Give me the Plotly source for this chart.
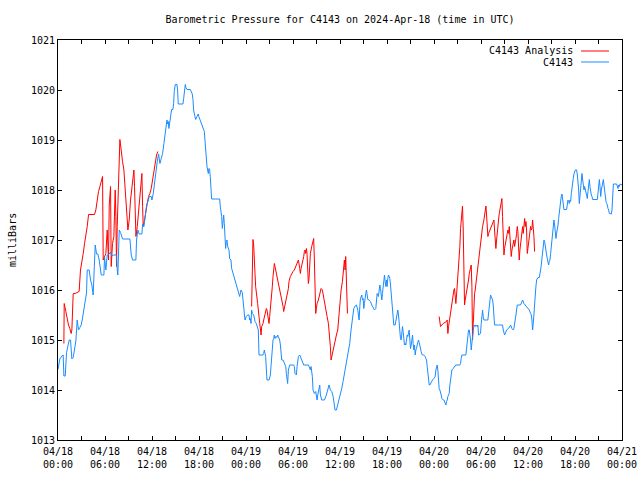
import datetime as dt
import plotly.graph_objects as go

# ---------------- data (hours after 2024-04-18 00:00 UTC, pressure in mbar) ----------------
obs_hours = [0, 0.23, 0.49, 0.66, 0.75, 0.92, 1.09, 1.26, 1.43, 1.6, 1.77, 1.94, 2.11, 2.28, 2.45, 2.62, 2.79,
             2.96, 3.13, 3.3, 3.47, 3.64, 3.73, 3.98, 4.15, 4.32, 4.49, 4.66, 4.75, 4.92, 5.09, 5.26, 5.52,
             5.69, 5.86, 5.94, 6.11, 6.28, 6.54, 6.71, 6.88, 7.05, 7.3, 7.47, 7.56, 7.64, 7.73, 7.82, 7.99,
             8.24, 8.67, 9.18, 9.35, 9.52, 9.94, 10.03, 10.2, 10.37, 10.71, 10.8, 10.97, 11.14, 11.31, 11.48,
             11.65, 11.9, 11.99, 12.16, 12.33, 12.5, 12.67, 12.84, 13.01, 13.18, 13.35, 13.52, 13.69,
             13.82, 13.91, 13.99, 14.08, 14.16, 14.25, 14.33, 14.5, 14.67, 14.76, 14.84, 14.97, 15.18, 15.27,
             15.35, 15.7, 15.95, 16.04, 16.12, 16.25, 16.33, 16.46, 16.89, 16.97, 17.14, 17.23, 17.31, 17.48,
             17.57, 17.74, 17.91, 17.98, 18.17, 18.34, 18.51, 18.68, 18.76, 18.85, 19.02, 19.1, 19.19, 19.27,
             19.36, 19.44, 19.53, 19.61, 20.13, 20.64, 20.72, 20.89, 20.98, 21.06, 21.15, 21.23, 21.32, 21.4,
             21.49, 21.57, 21.66, 21.83, 21.91, 22.08, 22.17, 22.6,
             23.19, 23.36, 23.53, 23.62, 23.79, 23.87, 24.04, 24.21, 24.38, 24.47, 24.55, 24.64, 24.72, 24.81,
             24.98, 25.06, 25.15, 25.32, 25.4, 25.57, 25.66, 25.92, 26.17, 26.26, 26.34, 26.43, 26.51, 26.6,
             26.68, 26.94, 27.02, 27.11, 27.19, 27.28, 27.36, 27.45, 27.53, 27.62, 27.7, 27.79, 27.96, 28.05,
             28.13, 28.3, 28.39, 28.56, 28.73, 28.9, 29.07, 29.15, 29.24, 29.32, 29.41, 29.49, 29.58, 30.09,
             30.17, 30.26, 30.43, 30.52, 30.69, 30.86, 31.03, 31.2, 31.37, 31.54, 31.96, 32.05, 32.22, 32.3,
             32.39, 32.47, 32.56, 32.73, 32.9, 32.99, 33.07, 33.16, 33.33, 33.41, 33.5, 33.58, 33.67, 34.01,
             34.09, 34.26, 34.43, 34.52, 34.6, 34.77, 34.95, 35.12, 35.29, 35.37, 35.54, 35.71, 35.88, 36.05,
             36.22, 36.39, 36.56, 36.73, 36.9, 37.07, 37.24, 37.41, 37.58, 37.76, 37.93, 38.1, 38.27, 38.36,
             38.44,
             38.53, 38.61, 38.78, 38.87, 38.95, 39.04, 39.12, 39.21, 39.29, 39.38, 39.46, 39.55, 39.72, 39.89,
             40.06, 40.23, 40.4, 40.57, 40.66, 40.74, 40.91, 41.0, 41.08, 41.17, 41.25, 41.34, 41.42, 41.51,
             41.59, 41.68, 41.76, 41.85, 41.93, 42.02, 42.1, 42.19, 42.28, 42.36, 42.45, 42.53, 42.62, 42.7,
             42.79, 42.87, 43.04, 43.21, 43.3, 43.38, 43.47, 43.55, 43.64, 43.72, 43.81, 43.89, 43.98, 44.06,
             44.15, 44.23, 44.32, 44.4, 44.49, 44.58, 44.66, 44.75, 44.83, 44.92, 45.0, 45.09, 45.17, 45.26,
             45.34, 45.43, 45.51, 45.6, 45.68, 45.77, 45.85, 45.94, 46.02, 46.11, 46.19, 46.28, 46.36, 46.45,
             46.53, 46.7, 46.87, 46.96, 47.05, 47.13, 47.22, 47.3, 47.39, 47.47, 47.56, 47.64, 47.81, 47.98,
             48.15, 48.24, 48.32, 48.41, 48.49, 48.58, 48.66, 48.75, 48.83, 48.92, 49.0, 49.09, 49.26, 49.35,
             49.43, 49.52, 49.6, 49.69, 49.77, 49.86, 49.94, 50.03, 50.11, 50.2, 50.28, 50.45, 50.62, 50.79,
             51.3,
             51.39, 51.47, 51.56, 52.07, 52.15, 52.24, 52.33, 52.41, 52.5, 52.58, 52.67, 52.75, 52.84, 52.92,
             53.01, 53.09, 53.18, 53.26, 53.35, 53.52, 53.6, 53.69, 53.94, 54.03, 54.11, 54.2, 54.28, 54.37,
             54.88, 54.97, 55.05, 55.14, 55.22, 55.31, 55.39, 55.48, 55.56, 55.65, 55.73, 56.24, 56.75, 56.84,
             56.93, 57.01, 57.1, 57.27, 57.52, 57.69, 57.78, 57.95, 58.12, 58.2, 58.29, 58.37, 58.46, 58.54,
             58.63, 59.05, 59.14, 59.31, 59.48, 59.65, 59.82, 59.99, 60.16, 60.33, 60.42, 60.5, 60.59, 60.67,
             60.76, 60.84, 60.93, 61.01, 61.1, 61.27, 61.44, 61.52, 61.61, 61.69, 61.78, 61.86, 61.95, 62.04,
             62.12, 62.21, 62.29, 62.38, 62.46, 62.55, 62.63,
             62.72, 62.8, 62.89, 62.97, 63.06, 63.14, 63.23, 63.31, 63.4, 63.48, 63.57, 63.65, 63.74, 63.83,
             63.91, 64.0, 64.08, 64.17, 64.25, 64.34, 64.42, 64.51, 64.59, 64.93, 65.02, 65.1, 65.19, 65.27,
             65.36, 65.44, 65.53, 65.61, 65.7, 65.78, 65.87, 65.95, 66.04, 66.12, 66.21, 66.3, 66.38, 66.47,
             66.55, 66.64, 66.72, 66.81, 66.89, 66.98, 67.06, 67.15, 67.23, 67.32, 67.4, 67.49, 67.57, 67.66,
             67.74, 67.83, 67.91, 68.0, 68.08, 68.17, 68.25, 68.85, 68.94, 69.02, 69.11, 69.19, 69.28, 69.36,
             69.45, 69.53, 69.62, 69.7, 69.79, 69.87, 69.96, 70.04, 70.13, 70.21, 70.3, 70.38, 70.64, 70.72,
             70.81, 70.9, 71.32, 71.41, 71.49, 71.58, 71.66, 71.75, 72.0]

obs_mbar = [1014.41, 1014.62, 1014.68, 1014.7, 1014.28, 1014.28, 1014.75, 1014.85, 1015.0, 1015.0, 1014.62,
            1014.65, 1014.78, 1014.98, 1015.4, 1015.2, 1015.25, 1015.3, 1015.44, 1015.6, 1015.8, 1015.94,
            1016.4, 1016.4, 1016.2, 1016.1, 1015.9, 1016.64, 1016.9, 1016.72, 1016.72, 1016.6, 1016.3, 1016.3,
            1016.3, 1016.66, 1016.4, 1016.7, 1016.72, 1016.76, 1016.68, 1016.7, 1016.7, 1016.7, 1016.4,
            1016.3, 1016.76, 1017.2, 1017.15, 1017.02, 1017.02, 1017.02, 1016.7, 1016.6, 1016.6, 1017.0,
            1017.2, 1017.12, 1017.12, 1017.32, 1017.27, 1017.5, 1017.7, 1017.77, 1017.87, 1017.87, 1017.8,
            1017.93, 1018.17, 1018.33, 1018.57, 1018.72, 1018.53, 1018.63, 1018.73, 1018.93, 1019.13,
            1019.33, 1019.4, 1019.32, 1019.37, 1019.23, 1019.33, 1019.5, 1019.61, 1019.61, 1019.73, 1019.97,
            1020.11, 1020.11, 1020.0, 1019.72, 1019.72, 1019.72, 1019.83, 1020.0, 1020.11, 1020.05, 1020.01,
            1020.01, 1019.97, 1019.92, 1019.81, 1019.6, 1019.47, 1019.41, 1019.47, 1019.52, 1019.47, 1019.39,
            1019.35, 1019.27, 1019.17, 1019.0, 1018.77, 1018.47, 1018.4, 1018.33, 1018.43, 1018.4, 1018.27,
            1017.97, 1017.82, 1017.82, 1017.82, 1017.67, 1017.47, 1017.23, 1017.37, 1017.5, 1017.33, 1017.13,
            1016.83, 1016.97, 1017.0, 1016.87, 1016.8, 1016.63, 1016.6, 1016.43, 1016.2,
            1015.87, 1016.0, 1015.95, 1015.8, 1015.6, 1015.4, 1015.47, 1015.5, 1015.5, 1015.4, 1015.43,
            1015.33, 1015.6, 1015.53, 1015.5, 1015.4, 1015.37, 1015.33, 1015.27, 1015.2, 1014.7, 1014.7,
            1014.7, 1014.73, 1014.8, 1014.73, 1014.67, 1014.4, 1014.2, 1014.2, 1014.23, 1014.3, 1014.47,
            1014.73, 1014.87, 1015.0, 1015.03, 1015.1, 1015.03, 1015.07, 1015.05, 1015.1, 1015.07, 1015.0,
            1014.9, 1014.6, 1014.6, 1014.53, 1014.47, 1014.33, 1014.2, 1014.13, 1014.4, 1014.47, 1014.5,
            1014.5, 1014.47, 1014.33, 1014.3, 1014.47, 1014.67, 1014.7, 1014.63, 1014.6, 1014.5, 1014.5,
            1014.5, 1014.47, 1014.4, 1014.47, 1014.4, 1014.27, 1014.0, 1013.93, 1013.97, 1013.87, 1013.8,
            1013.9, 1014.0, 1014.1, 1013.9, 1013.83, 1013.8, 1013.8, 1013.83, 1013.9, 1014.0, 1014.07,
            1014.1, 1014.0, 1013.97, 1013.87, 1013.7, 1013.6, 1013.6, 1013.7, 1013.8, 1013.9, 1014.03,
            1014.17, 1014.33, 1014.4, 1014.57, 1014.73, 1014.93, 1015.2, 1015.4, 1015.63, 1015.68, 1015.7,
            1015.6, 1015.43, 1015.4,
            1015.67, 1015.83, 1015.9, 1015.8, 1015.83, 1015.63, 1015.73, 1015.9, 1015.93, 1016.0, 1015.93,
            1015.81, 1015.8, 1015.77, 1015.7, 1015.63, 1015.6, 1015.63, 1015.83, 1015.93, 1015.87, 1016.0,
            1016.1, 1016.03, 1015.93, 1015.8, 1015.93, 1016.13, 1016.27, 1016.3, 1016.17, 1016.07, 1016.2,
            1016.07, 1016.23, 1016.3, 1016.27, 1016.23, 1016.1, 1015.93, 1015.73, 1015.53, 1015.37, 1015.3,
            1015.3, 1015.43, 1015.57, 1015.6, 1015.5, 1015.27, 1015.1, 1015.03, 1015.0, 1015.1, 1015.27,
            1015.17, 1015.07, 1014.9, 1014.93, 1014.9, 1015.0, 1015.1, 1015.07, 1015.17, 1015.2, 1015.0,
            1014.83, 1014.9, 1014.97, 1015.1, 1014.93, 1014.8, 1014.9, 1014.7, 1014.8, 1014.83, 1014.9,
            1014.97, 1015.0, 1014.95, 1014.87, 1014.81, 1014.77, 1014.72, 1014.7, 1014.7, 1014.67, 1014.63,
            1014.6, 1014.47, 1014.33, 1014.2, 1014.1, 1014.1, 1014.13, 1014.17, 1014.2, 1014.23, 1014.27,
            1014.4, 1014.47, 1014.5, 1014.4, 1014.1, 1014.03, 1014.0, 1013.97, 1013.9, 1013.83, 1013.81,
            1013.8, 1013.77, 1013.75, 1013.7, 1013.77, 1013.8, 1013.87, 1013.9, 1013.93, 1014.1, 1014.2,
            1014.3, 1014.4, 1014.43, 1014.48, 1014.5, 1014.5,
            1014.53, 1014.63, 1014.7, 1014.7, 1014.83, 1015.0, 1015.03, 1015.2, 1015.2, 1015.13, 1015.0,
            1014.8, 1015.0, 1015.07, 1015.2, 1015.27, 1015.3, 1015.27, 1015.3, 1015.27, 1015.3, 1015.1,
            1015.13, 1015.33, 1015.5, 1015.6, 1015.47, 1015.4, 1015.4, 1015.53, 1015.7, 1015.8, 1015.9,
            1015.87, 1015.83, 1015.8, 1015.7, 1015.53, 1015.3, 1015.3, 1015.3, 1015.2, 1015.13, 1015.1,
            1015.13, 1015.2, 1015.23, 1015.27, 1015.3, 1015.23, 1015.2, 1015.23, 1015.3, 1015.4, 1015.5,
            1015.6, 1015.7, 1015.7, 1015.73, 1015.8, 1015.73, 1015.7, 1015.67, 1015.63, 1015.6, 1015.53,
            1015.5, 1015.4, 1015.2, 1015.33, 1015.6, 1015.73, 1015.9, 1016.07, 1016.2, 1016.25, 1016.25,
            1016.3, 1016.4, 1016.5, 1016.67, 1016.83, 1016.97, 1017.0, 1016.97, 1016.83, 1016.77, 1016.7,
            1016.63, 1016.57, 1016.5,
            1016.57, 1016.6, 1016.73, 1016.87, 1017.0, 1017.13, 1017.3, 1017.4, 1017.3, 1017.13, 1017.03,
            1017.13, 1017.2, 1017.3, 1017.43, 1017.57, 1017.7, 1017.83, 1017.88, 1017.92, 1017.8, 1017.67,
            1017.61, 1017.61, 1017.7, 1017.8, 1017.77, 1017.73, 1017.8, 1017.77, 1017.93, 1018.07, 1018.17,
            1018.23, 1018.32, 1018.37, 1018.4, 1018.41, 1018.4, 1018.3, 1018.17, 1018.0, 1017.73, 1017.93,
            1018.1, 1018.21, 1018.33, 1018.2, 1018.07, 1018.0, 1018.07, 1018.0, 1017.93, 1017.87, 1017.83,
            1017.97, 1018.1, 1018.21, 1018.07, 1017.95, 1017.9, 1017.87, 1017.81, 1017.81, 1017.93, 1018.1,
            1018.21, 1018.07, 1017.87, 1018.0, 1018.07, 1018.17, 1018.21, 1018.1, 1017.93, 1017.8, 1017.77,
            1017.73, 1017.7, 1017.63, 1017.6, 1017.53, 1017.52, 1017.6, 1017.93, 1018.12, 1018.12, 1018.08,
            1018.03, 1018.1, 1018.07, 1018.12, 1018.1]

# analysis series: None marks the gaps between the three analysis windows
ana_hours = [0.75, 0.79, 0.87, 1.0, 1.17, 1.34, 1.51, 1.68, 1.77, 1.85, 1.94, 2.19, 2.53, 2.7, 2.87, 3.04,
             3.22, 3.39, 3.56, 3.73, 3.9, 4.32, 4.66, 4.83, 5.0, 5.17, 5.35, 5.52, 5.69, 5.77, 5.94, 6.11,
             6.28, 6.45, 6.54, 6.71, 6.79, 6.96, 7.13, 7.3, 7.39, 7.47, 7.56, 7.73, 7.9, 7.99, 8.07, 8.24,
             8.41, 8.58, 8.75, 8.84, 8.92, 9.09, 9.26, 9.43, 9.6, 9.69, 9.77, 9.86, 9.95, 10.12, 10.29, 10.46,
             10.63, 10.71, 10.8, 10.88, 11.05, 11.22, 11.39, 11.56, 11.73, 11.9, 12.07, 12.24, 12.41, 12.58,
             12.75, 18.0,
             24.72, 24.81, 24.89, 24.98, 25.06, 25.15, 25.23, 25.4, 25.49, 25.66, 25.75, 25.83, 25.92, 26.0,
             26.17, 26.26, 26.34, 26.43, 26.6, 26.68, 26.77, 26.85, 26.94, 27.02, 27.11, 27.19, 27.28, 27.36,
             27.45, 27.53, 27.62, 27.7, 27.79, 27.87, 27.96, 28.05, 28.13, 28.22, 28.3, 28.47, 28.56, 28.64,
             28.73, 28.81, 28.9, 28.98, 29.15, 29.24, 29.41, 29.49, 29.66, 29.83, 30.0, 30.17, 30.35, 30.52,
             30.69, 30.86, 30.94, 31.03, 31.2, 31.37, 31.45, 31.54, 31.62, 31.71, 31.79, 31.88, 31.96, 32.05,
             32.13, 32.22, 32.39, 32.47, 32.56, 32.64, 32.73, 32.81, 32.9, 32.99, 33.07, 33.24, 33.41, 33.58,
             33.75, 33.92, 34.01, 34.18, 34.35, 34.52, 34.69, 34.77, 34.86, 34.95, 35.03, 35.2, 35.37, 35.54,
             35.71, 35.8, 35.97, 36.05, 36.14, 36.31, 36.39, 36.48, 36.56, 36.65, 36.73, 36.82, 36.9, 36.95,
             42.0,
             48.66, 48.83, 49.17, 49.6, 49.68, 49.77, 49.86, 50.03, 50.2, 50.28, 50.45, 50.54, 50.62, 50.71,
             50.79, 50.88, 50.96, 51.05, 51.13, 51.22, 51.3, 51.39, 51.47, 51.56, 51.64, 51.73, 51.81, 51.9,
             51.98, 52.07, 52.15, 52.24, 52.33, 52.41, 52.5, 52.58, 52.67, 52.75, 52.84, 52.92, 53.01, 53.09,
             53.18, 53.26, 53.35, 53.43, 53.52, 53.6, 53.69, 53.77, 53.86, 53.94, 54.03, 54.2, 54.37, 54.54,
             54.63, 54.71, 54.8, 54.88, 54.97, 55.14, 55.31, 55.48, 55.65, 55.73, 55.82, 55.9, 55.99, 56.07,
             56.16, 56.24, 56.33, 56.41, 56.5, 56.58, 56.67, 56.75, 56.84, 56.93, 57.01, 57.1, 57.18, 57.27,
             57.35, 57.44, 57.52, 57.61, 57.69, 57.78, 57.86, 57.95, 58.03, 58.12, 58.2, 58.29, 58.37, 58.46,
             58.54, 58.63, 58.71, 58.8, 58.88, 58.97, 59.05, 59.14, 59.22, 59.31, 59.39, 59.48, 59.57, 59.65,
             59.74, 59.82, 59.91, 59.99, 60.08, 60.16, 60.25, 60.33, 60.42, 60.5, 60.59, 60.67, 60.76, 60.84]

ana_mbar = [1014.93, 1015.73, 1015.67, 1015.57, 1015.4, 1015.3, 1015.23, 1015.13, 1015.2, 1015.53, 1015.93,
            1015.93, 1015.95, 1015.97, 1016.4, 1016.53, 1016.73, 1016.93, 1017.08, 1017.27, 1017.51, 1017.51,
            1017.51, 1017.6, 1017.8, 1017.97, 1018.07, 1018.17, 1018.27, 1016.6, 1016.67, 1016.73, 1017.2,
            1016.6, 1017.7, 1018.07, 1016.47, 1016.93, 1017.07, 1018.0, 1017.47, 1016.47, 1017.27, 1018.4,
            1019.01, 1018.9, 1018.73, 1018.57, 1018.4, 1018.07, 1017.67, 1017.4, 1017.2, 1017.4, 1017.8,
            1018.07, 1018.27, 1018.4, 1018.07, 1017.33, 1017.07, 1017.27, 1017.6, 1017.93, 1018.23, 1018.33,
            1017.67, 1017.27, 1017.4, 1017.6, 1017.73, 1017.87, 1017.93, 1018.03, 1018.2, 1018.4, 1018.6,
            1018.7, 1018.77, None,
            1015.67, 1016.33, 1017.01, 1016.9, 1016.4, 1016.33, 1016.07, 1015.9, 1015.73, 1015.47, 1015.33,
            1015.27, 1015.1, 1015.27, 1015.33, 1015.4, 1015.47, 1015.53, 1015.63, 1015.6, 1015.5, 1015.4,
            1015.33, 1015.47, 1015.6, 1015.8, 1015.87, 1016.07, 1016.27, 1016.43, 1016.53, 1016.47, 1016.4,
            1016.33, 1016.27, 1016.2, 1016.13, 1016.07, 1016.0, 1015.93, 1015.83, 1015.77, 1015.67, 1015.57,
            1015.63, 1015.67, 1015.8, 1015.9, 1016.03, 1016.17, 1016.27, 1016.33, 1016.37, 1016.4, 1016.47,
            1016.53, 1016.6, 1016.43, 1016.33, 1016.43, 1016.53, 1016.67, 1016.77, 1016.8, 1016.73, 1016.83,
            1016.73, 1016.4, 1016.13, 1016.23, 1016.47, 1016.73, 1016.87, 1016.93, 1017.0, 1017.03, 1016.6,
            1016.07, 1015.53, 1015.63, 1015.73, 1015.8, 1015.93, 1016.03, 1016.0, 1015.87, 1015.73, 1015.6,
            1015.47, 1015.33, 1015.07, 1014.87, 1014.6, 1014.67, 1014.77, 1014.87, 1014.97, 1015.1, 1015.2,
            1015.4, 1015.67, 1015.87, 1016.0, 1016.17, 1016.37, 1016.53, 1016.6, 1016.4, 1016.67, 1016.2,
            1015.8, 1015.53, None,
            1015.47, 1015.27, 1015.33, 1015.37, 1015.4, 1015.13, 1015.27, 1015.47, 1015.63, 1015.73, 1015.87,
            1016.0, 1016.03, 1015.83, 1015.73, 1015.9, 1016.07, 1016.2, 1016.37, 1016.63, 1016.87, 1017.23,
            1017.4, 1017.5, 1017.68, 1017.2, 1016.27, 1015.7, 1015.8, 1015.87, 1015.93, 1016.0, 1016.07,
            1016.2, 1016.33, 1016.4, 1016.47, 1016.5, 1016.07, 1015.0, 1015.33, 1015.8, 1015.93, 1016.0,
            1016.13, 1016.27, 1016.4, 1016.5, 1016.6, 1016.7, 1016.8, 1016.93, 1017.03, 1017.27, 1017.4,
            1017.6, 1017.68, 1017.5, 1017.33, 1017.07, 1017.13, 1017.2, 1017.27, 1017.33, 1017.4, 1017.2,
            1017.03, 1016.83, 1017.0, 1017.2, 1017.27, 1017.4, 1017.53, 1017.6, 1017.73, 1017.77, 1017.83,
            1017.47, 1016.73, 1016.7, 1016.83, 1016.93, 1017.0, 1017.07, 1017.13, 1017.2, 1017.13, 1017.27,
            1017.0, 1016.73, 1016.67, 1016.8, 1016.9, 1016.97, 1017.0, 1016.87, 1016.93, 1017.03, 1017.13,
            1017.27, 1017.17, 1016.93, 1016.6, 1016.8, 1016.93, 1017.07, 1017.13, 1017.27, 1017.13, 1017.37,
            1017.43, 1017.27, 1017.37, 1017.2, 1016.73, 1016.83, 1016.93, 1017.07, 1017.13, 1017.27, 1017.2,
            1017.23, 1017.4, 1017.3, 1017.07, 1016.77]

y_ticks = [1013, 1014, 1015, 1016, 1017, 1018, 1019, 1020, 1021]
series_names = ["C4143 Analysis", "C4143"]
title_text = "Barometric Pressure for C4143 on 2024-Apr-18 (time in UTC)"
y_title = "milliBars"

# ---------------- figure ----------------
base = dt.datetime(2024, 4, 18, 0, 0)
to_time = lambda hs: [base + dt.timedelta(hours=h) for h in hs]

FONT = "DejaVu Sans Mono"
RED = "#ff0000"
BLUE = "#1a8cff"

fig = go.Figure()
fig.add_trace(go.Scatter(x=to_time(ana_hours), y=ana_mbar, mode="lines", name=series_names[0],
                         line=dict(color=RED, width=1), connectgaps=False))
fig.add_trace(go.Scatter(x=to_time(obs_hours), y=obs_mbar, mode="lines", name=series_names[1],
                         line=dict(color=BLUE, width=1)))

fig.update_layout(
    width=640, height=480, autosize=False,
    margin=dict(l=58, r=18, t=40, b=40, pad=0, autoexpand=False),
    paper_bgcolor="white", plot_bgcolor="white",
    showlegend=False,
    font=dict(family=FONT, size=10, color="black"),
    title=dict(text=title_text, x=0.5, xref="paper", y=1 - 19 / 480, yref="container",
               xanchor="center", yanchor="middle", font=dict(family=FONT, size=10, color="black")),
)
fig.update_xaxes(
    type="date", automargin=False,
    range=[base, base + dt.timedelta(hours=72)],
    tick0=base, dtick=6 * 3600 * 1000, tickformat="%m/%d<br>%H:%M",
    ticks="inside", ticklen=4, tickcolor="black", tickwidth=1, ticklabelstandoff=2,
    minor=dict(dtick=3 * 3600 * 1000, ticks="inside", ticklen=4, tickcolor="black"),
    showline=True, linecolor="black", linewidth=1, mirror="ticks",
    showgrid=False, zeroline=False,
    tickfont=dict(family=FONT, size=10, color="black"),
)
fig.update_yaxes(
    automargin=False,
    range=[y_ticks[0], y_ticks[-1]], tickvals=y_ticks, ticktext=[str(v) for v in y_ticks],
    ticks="inside", ticklen=4, tickcolor="black", tickwidth=1,
    showline=True, linecolor="black", linewidth=1, mirror="ticks",
    showgrid=False, zeroline=False,
    tickfont=dict(family=FONT, size=10, color="black"),
)

# y axis label
fig.add_annotation(text=y_title, textangle=-90, xref="paper", yref="paper",
                   x=(12 - 58) / 564, y=0.5, xanchor="center", yanchor="middle", showarrow=False,
                   font=dict(family=FONT, size=10, color="black"))

# gnuplot-style key (text right-aligned, sample line on the right)
key_rows = [(series_names[0], RED, 51), (series_names[1], BLUE, 62)]
for name, col, py in key_rows:
    yp = (440 - py) / 400
    fig.add_annotation(text=name, xref="paper", yref="paper", x=(575 - 58) / 564, y=yp,
                       xanchor="right", yanchor="middle", showarrow=False,
                       font=dict(family=FONT, size=10, color="black"))
    fig.add_shape(type="line", xref="paper", yref="paper",
                  x0=(581 - 58) / 564, x1=(609 - 58) / 564, y0=yp, y1=yp,
                  line=dict(color=col, width=1))

fig.write_html("out.html", config={"responsive": False, "displayModeBar": False},
               post_script="document.body.style.margin='0';document.body.style.overflow='hidden';")
